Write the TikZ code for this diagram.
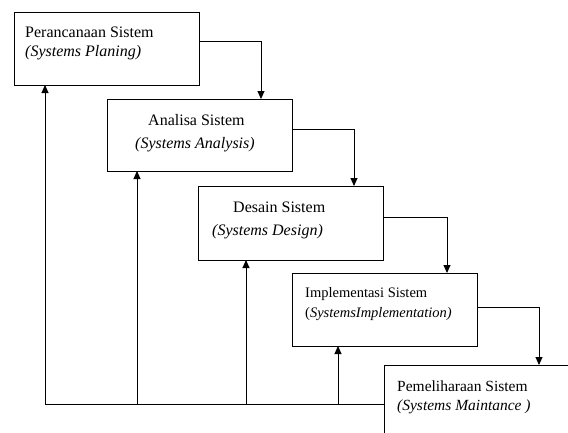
\documentclass[tikz,border=0pt]{standalone}
\usepackage{fontspec}
\setmainfont{Liberation Serif}
\usetikzlibrary{arrows.meta,calc}
\begin{document}
\begin{tikzpicture}[x=1pt,y=-1pt,
  box/.style={draw,line width=0.9pt,rectangle,inner sep=0pt,outer sep=0pt,anchor=north west},
  lbl/.style={anchor=base west,inner sep=0pt,font=\fontsize{16}{19}\selectfont},
  lblsmall/.style={lbl,font=\fontsize{14.5}{17}\selectfont},
  lblmid/.style={lbl,font=\fontsize{15.5}{18}\selectfont},
  arr/.style={line width=0.9pt,-{Triangle[length=8pt,width=7pt]}},
  ln/.style={line width=0.9pt}]
\useasboundingbox (0,0) rectangle (568,432);
\clip (0,0) rectangle (568,432);
% boxes
\node[box,minimum width=185pt,minimum height=73pt] (b1) at (14,12) {};
\node[box,minimum width=185pt,minimum height=72pt] (b2) at (107,99) {};
\node[box,minimum width=185pt,minimum height=74pt] (b3) at (198,186) {};
\node[box,minimum width=185pt,minimum height=73pt] (b4) at (292,273) {};
\node[box,minimum width=200pt,minimum height=80pt] (b5) at (384,365) {};
% texts
\node[lbl] (t1a) at (25,37) {Perancanaan Sistem};
\node[lbl] (t1b) at (25,56) {\itshape (Systems Planing)};
\node[lbl] (t2a) at (148,125) {Analisa Sistem};
\node[lbl] (t2b) at (135,148) {\itshape (Systems Analysis)};
\node[lbl] (t3a) at (233,212) {Desain Sistem};
\node[lbl] (t3b) at (212,235) {\itshape (Systems Design)};
\node[lblsmall] (t4a) at (305,297) {Implementasi Sistem};
\node[lblsmall] (t4b) at (305,317) {(\itshape SystemsImplementation)};
\node[lblmid] (t5a) at (397,391) {Pemeliharaan Sistem};
\node[lblmid] (t5b) at (397,410) {\itshape (Systems Maintance )};
% forward connectors
\draw[arr] (b1.east |- 0,41) -| (b2.north west -| 261,0);
\draw[arr] (b2.east |- 0,129) -| (b3.north west -| 354,0);
\draw[arr] (b3.east |- 0,217) -| (b4.north west -| 447,0);
\draw[arr] (b4.east |- 0,307) -| (b5.north west -| 539,0);
% feedback
\coordinate (base) at (45,404);
\coordinate (j2) at (137,404);
\coordinate (j3) at (246,404);
\coordinate (j4) at (338,404);
\draw[ln] (b5.west |- base) -- (base);
\draw[arr] (base) -- (b1.south -| base);
\draw[arr] (j2) -- (b2.south -| j2);
\draw[arr] (j3) -- (b3.south -| j3);
\draw[arr] (j4) -- (b4.south -| j4);
\end{tikzpicture}
\end{document}
